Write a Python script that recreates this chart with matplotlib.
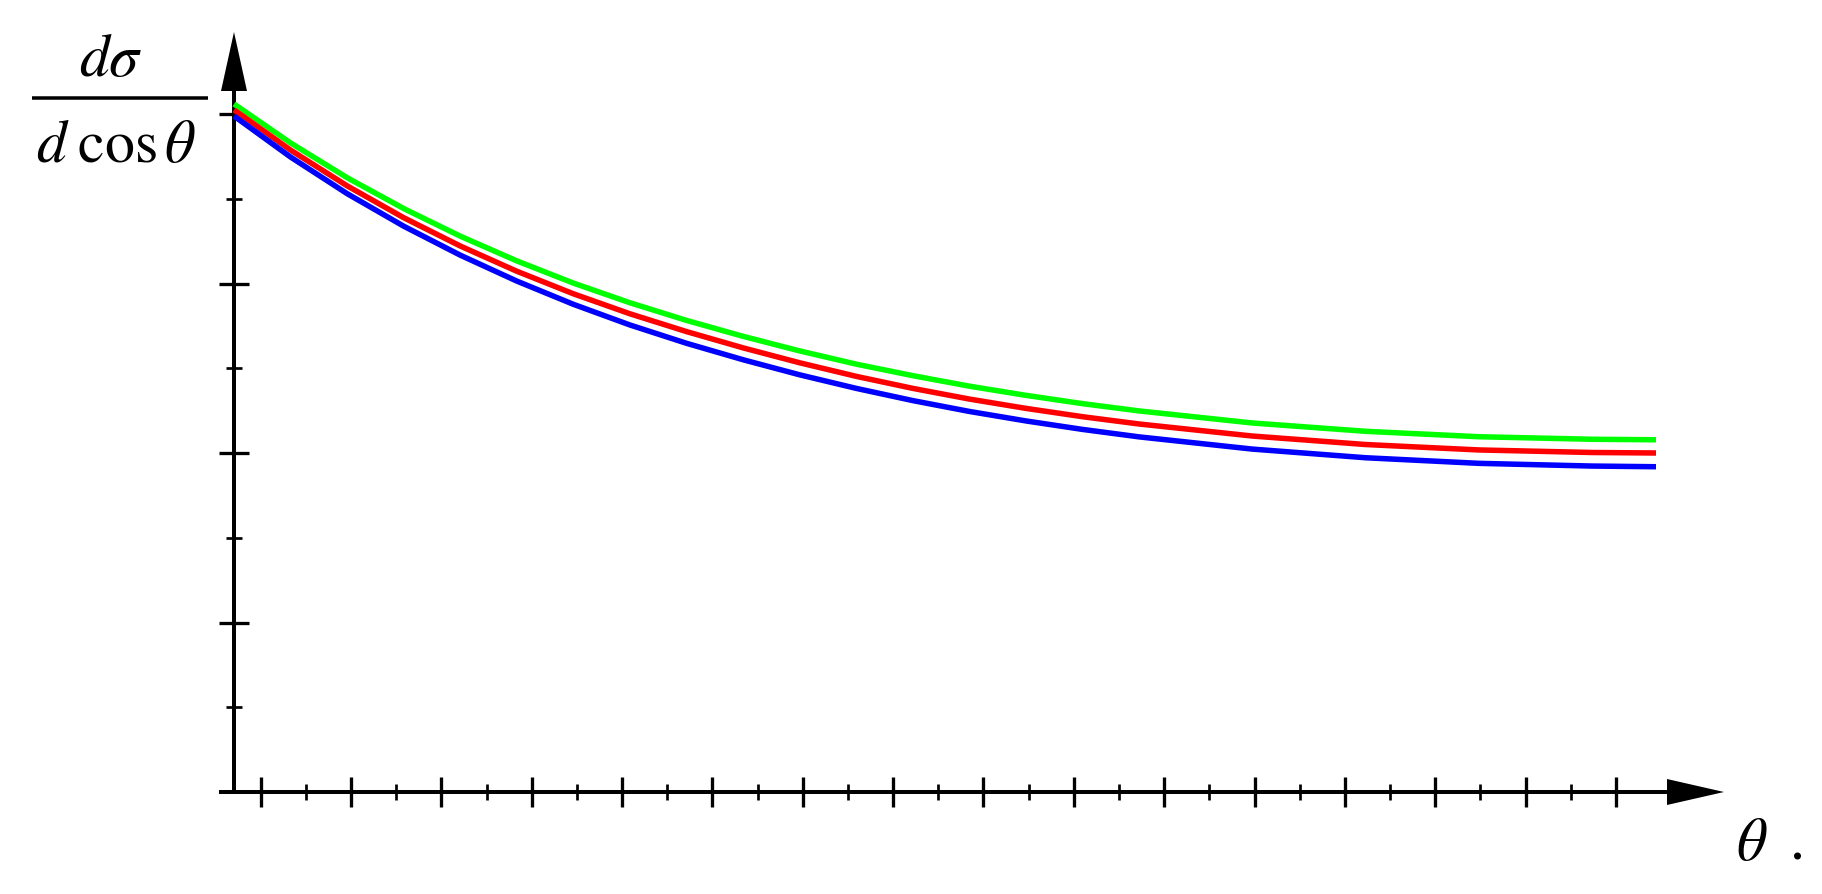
import numpy as np
import matplotlib.pyplot as plt
import matplotlib

matplotlib.rcParams['mathtext.fontset'] = 'stix'

# values (y in units of the major y tick)
theta = [0.0, 0.125, 0.25, 0.375, 0.5, 0.625, 0.75, 0.875, 1.0, 1.125, 1.25,
         1.375, 1.5, 1.625, 1.75, 1.875, 2.0, 2.25, 2.5, 2.75, 3.0, np.pi]
green = [4.059, 3.829, 3.624, 3.442, 3.279, 3.133, 3.002, 2.886, 2.782, 2.688, 2.602,
         2.524, 2.456, 2.394, 2.340, 2.291, 2.248, 2.177, 2.128, 2.096, 2.081, 2.078]
red = [4.024, 3.787, 3.576, 3.388, 3.221, 3.072, 2.939, 2.821, 2.716, 2.620, 2.532,
       2.452, 2.381, 2.318, 2.263, 2.214, 2.171, 2.100, 2.050, 2.018, 2.003, 2.000]
blue = [3.988, 3.746, 3.530, 3.338, 3.167, 3.014, 2.877, 2.755, 2.647, 2.550, 2.461,
        2.381, 2.309, 2.245, 2.189, 2.139, 2.095, 2.023, 1.972, 1.939, 1.923, 1.919]

x_major = 0.059 + 0.1996 * np.arange(16)
x_minor = x_major[:-1] + 0.0998
y_major = [1, 2, 3, 4]
y_minor = [0.5, 1.5, 2.5, 3.5]

W, H = 1822, 895
x0, y0 = 234, 793          # origin in pixels
sx = (1656 - x0) / np.pi   # pixels per radian
sy = 169.5                 # pixels per y unit


def P(px, py):
    # pixel position -> data position
    return (px - x0) / sx, (y0 - py) / sy


fig = plt.figure(figsize=(W / 100, H / 100), dpi=100)
ax = fig.add_axes([0, 0, 1, 1])
ax.set_xlim(-x0 / sx, (W - x0) / sx)
ax.set_ylim(-(H - y0) / sy, y0 / sy)
ax.axis('off')

k = 0.72  # points per pixel
# axes lines
ax.plot([P(219, 0)[0], P(1668, 0)[0]], [0, 0], color='k', lw=4 * k, solid_capstyle='butt')
ax.plot([0, 0], [0, P(0, 91)[1]], color='k', lw=4 * k, solid_capstyle='butt')
# arrow heads
a = [P(1667, 780), P(1667, 806), P(1724, 793)]
ax.fill([p[0] for p in a], [p[1] for p in a], color='k', lw=0)
a = [P(221, 92), P(247, 92), P(234, 33)]
ax.fill([p[0] for p in a], [p[1] for p in a], color='k', lw=0)

# ticks
hx_maj, hx_min = 15 / sy, 8 / sy
for xv in x_major:
    ax.plot([xv, xv], [-hx_maj, hx_maj], color='k', lw=3.3 * k, solid_capstyle='butt')
for xv in x_minor:
    ax.plot([xv, xv], [-hx_min, hx_min], color='k', lw=2.7 * k, solid_capstyle='butt')
hy_maj, hy_min = 15 / sx, 8 / sx
for yv in y_major:
    ax.plot([-hy_maj, hy_maj], [yv, yv], color='k', lw=3.3 * k, solid_capstyle='butt')
for yv in y_minor:
    ax.plot([-hy_min, hy_min], [yv, yv], color='k', lw=2.7 * k, solid_capstyle='butt')

# curves
ax.plot(theta, green, color='#00ff00', lw=5.5 * k, solid_capstyle='butt', zorder=5)
ax.plot(theta, red, color='#ff0000', lw=5.5 * k, solid_capstyle='butt', zorder=5)
ax.plot(theta, blue, color='#0000ff', lw=5.5 * k, solid_capstyle='butt', zorder=5)

# y label as a fraction
ax.text(*P(111, 76), r'$d\sigma$', fontsize=43, ha='center', va='baseline')
ax.plot([P(32, 0)[0], P(208, 0)[0]], [P(0, 99)[1]] * 2, color='k', lw=3.5 * k,
        solid_capstyle='butt')
ax.text(*P(116, 162), r'$d\;\mathrm{cos}\,\theta$', fontsize=43, ha='center', va='baseline')

# x label
ax.text(*P(1752, 860), r'$\theta$', fontsize=43, ha='center', va='baseline')
ax.text(*P(1797, 860), '.', fontsize=43, family='Liberation Serif', ha='center', va='baseline')

fig.savefig('out.png', dpi=100)
